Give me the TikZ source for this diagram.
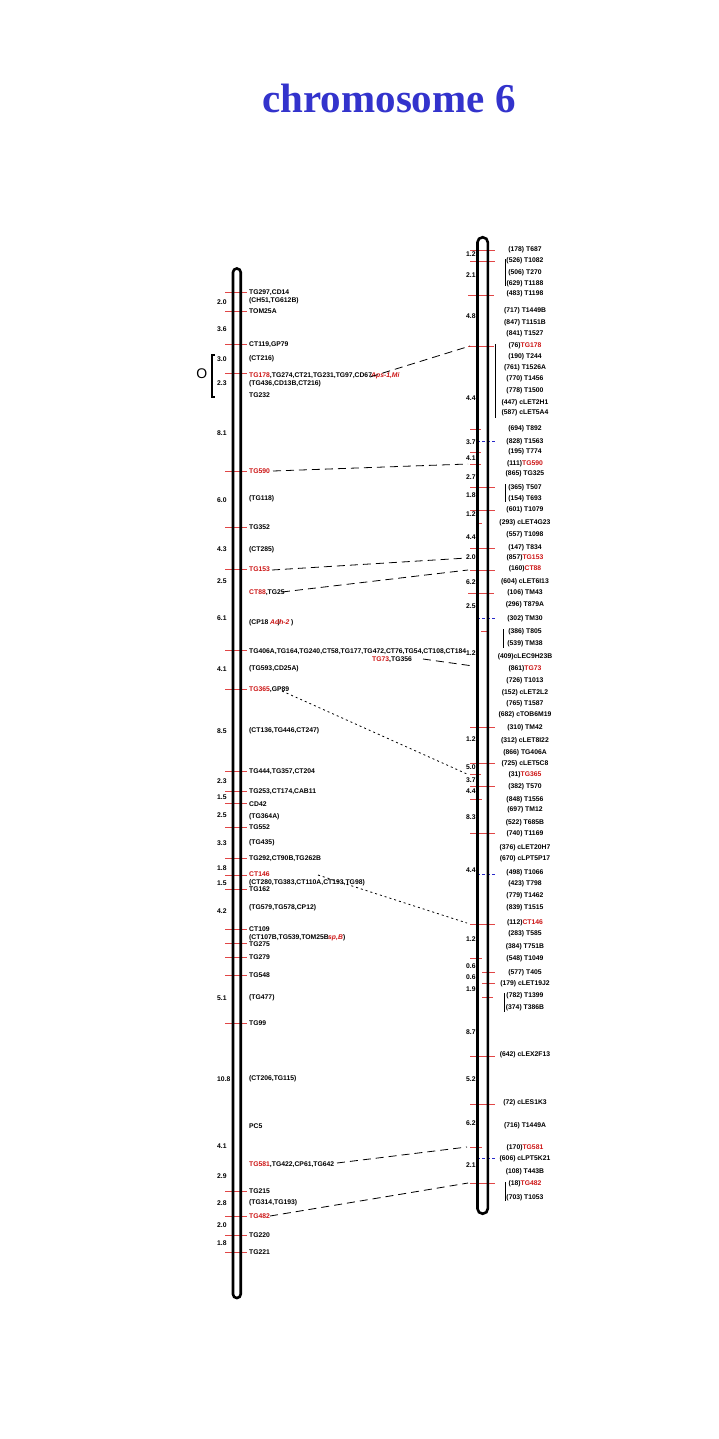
\documentclass[tikz,border=0pt]{standalone}
\usepackage{fontspec}
\setmainfont{Liberation Sans}
\newfontfamily\titlefont{Liberation Serif}
\definecolor{titleblue}{RGB}{51,51,204}
\definecolor{mred}{RGB}{204,20,20}
\definecolor{tred}{RGB}{225,70,70}
\definecolor{bdash}{RGB}{40,40,200}
\newcommand\redt[1]{\textcolor{mred}{#1}}
\newcommand\ltick[1]{\draw[tickl] (225,#1) -- (247,#1);}
\newcommand\llab[3]{\node[lab] (#1) at (249,#2) {#3};}
\newcommand\lnum[3]{\node[lab] (#1) at (217,#2) {#3};}
\newcommand\rtick[3]{\draw[tickl] (#1,#3) -- (#2,#3);}
\newcommand\rblue[1]{\draw[bluetick] (477,#1) -- (495,#1);}
\newcommand\rlab[3]{\node[rlabs] (#1) at (525,#2) {#3};}
\newcommand\rnum[3]{\node[lab] (#1) at (466,#2) {#3};}
\begin{document}
\begin{tikzpicture}[x=1pt,y=-1pt,
  lab/.style={font=\fontsize{6.8}{8}\selectfont\bfseries, inner sep=0pt, text height=5pt, text depth=0pt, anchor=west},
  rlabs/.style={lab, anchor=center},
  tickl/.style={draw=tred, line width=0.9pt},
  bluetick/.style={draw=bdash, dash pattern=on 3pt off 2pt, line width=0.9pt},
  conn/.style={draw=black, dash pattern=on 8pt off 5pt, line width=0.8pt},
  dotconn/.style={draw=black, dash pattern=on 2pt off 3pt, line width=0.8pt},
  chrom/.style={draw=black, line width=2.6pt},
  overlay/.style={lab, text=mred, font=\fontsize{6.8}{8}\selectfont\bfseries\itshape}
]
\path[use as bounding box] (0,0) rectangle (719,1439);

% title
\node[font=\titlefont\bfseries\fontsize{41}{48}\selectfont, text=titleblue, anchor=base, inner sep=0pt] (title) at (389,113) {chromosome 6};

% ---------- left ticks
\foreach \y in {292,311,344,373,471,527,569,650,689,771,791,803,827,858,875,889,929,943,957,975,1023,1191,1216,1235,1252} {\ltick{\y}}
% ---------- right ticks
\rtick{470}{495}{250}
\rtick{470}{495}{261}
\rtick{468}{494}{295}
\rtick{468}{494}{346}
\rtick{470}{481}{429}
\rtick{470}{481}{452}
\rtick{470}{481}{464}
\rtick{470}{495}{487}
\rtick{470}{495}{510}
\rtick{476}{482}{523}
\rtick{470}{495}{548}
\rtick{470}{495}{570}
\rtick{468}{494}{593}
\rtick{481}{489}{631}
\rtick{470}{495}{727}
\rtick{470}{495}{763}
\rtick{470}{481}{774}
\rtick{470}{495}{786}
\rtick{470}{482}{799}
\rtick{470}{495}{833}
\rtick{470}{495}{924}
\rtick{470}{482}{958}
\rtick{482}{495}{972}
\rtick{482}{495}{983}
\rtick{482}{493}{997}
\rtick{470}{495}{1056}
\rtick{470}{495}{1104}
\rtick{470}{482}{1147}
\rtick{470}{495}{1183}
\rblue{441}
\rblue{618}
\rblue{874}
\rblue{1158}

% ---------- chromosomes
\draw[chrom, rounded corners=3.8pt] (233,268.5) rectangle (240.7,1298);
\draw[chrom, rounded corners=5pt] (477.5,237.3) rectangle (487.8,1213.7);

% bracket and O
\draw[line width=2.4pt] (215,355) -- (211.7,355) -- (211.7,397) -- (215,397);
\node[font=\fontsize{14}{14}\selectfont, inner sep=0pt] (olab) at (201.7,374) {O};

% ---------- left labels
\llab{l1}{292}{TG297,CD14}
\llab{l2}{300}{(CH51,TG612B)}
\llab{l3}{311}{TOM25A}
\llab{l4}{344}{CT119,GP79}
\llab{l5}{358}{(CT216)}
\llab{l6}{375}{\redt{TG178},TG274,CT21,TG231,TG97,CD67}
\node[overlay] (l6b) at (371,375) {Aps-1,Mi};
\llab{l7}{383}{(TG436,CD13B,CT216)}
\llab{l8}{395}{TG232}
\llab{l9}{471}{\redt{TG590}}
\llab{l10}{498}{(TG118)}
\llab{l11}{527}{TG352}
\llab{l12}{549}{(CT285)}
\llab{l13}{569}{\redt{TG153}}
\llab{l14}{592}{\redt{CT88},TG25}
\llab{l15}{622}{(CP18\phantom{Ad})}
\node[overlay] (l15b) at (270,622) {Adh-2};
\node[lab] (l15c) at (291,622) {)};
\llab{l16}{651}{TG406A,TG164,TG240,CT58,TG177,TG472,CT76,TG54,CT108,CT184}
\node[lab] (l17) at (372,659) {\redt{TG73},TG356};
\llab{l18}{668}{(TG593,CD25A)}
\llab{l19}{689}{\redt{TG365},GP89}
\llab{l20}{730}{(CT136,TG446,CT247)}
\llab{l21}{771}{TG444,TG357,CT204}
\llab{l22}{791}{TG253,CT174,CAB11}
\llab{l23}{804}{CD42}
\llab{l24}{816}{(TG364A)}
\llab{l25}{827}{TG552}
\llab{l26}{842}{(TG435)}
\llab{l27}{858}{TG292,CT90B,TG262B}
\llab{l28}{874}{\redt{CT146}}
\llab{l29}{882}{(CT280,TG383,CT110A,CT193,TG98)}
\llab{l30}{889}{TG162}
\llab{l31}{907}{(TG579,TG578,CP12)}
\llab{l32}{929}{CT109}
\llab{l33}{937}{(CT107B,TG539,TOM25B}
\node[overlay] (l33b) at (328,937) {sp,B};
\node[lab] (l33c) at (343,937) {)};
\llab{l34}{944}{TG275}
\llab{l35}{957}{TG279}
\llab{l36}{975}{TG548}
\llab{l37}{997}{(TG477)}
\llab{l38}{1023}{TG99}
\llab{l39}{1078}{(CT206,TG115)}
\llab{l40}{1126}{PC5}
\llab{l41}{1164}{\redt{TG581},TG422,CP61,TG642}
\llab{l42}{1191}{TG215}
\llab{l43}{1202}{(TG314,TG193)}
\llab{l44}{1216}{\redt{TG482}}
\llab{l45}{1235}{TG220}
\llab{l46}{1252}{TG221}

% ---------- left distances
\lnum{n1}{302}{2.0}
\lnum{n2}{329}{3.6}
\lnum{n3}{359}{3.0}
\lnum{n4}{383}{2.3}
\lnum{n5}{433}{8.1}
\lnum{n6}{500}{6.0}
\lnum{n7}{549}{4.3}
\lnum{n8}{581}{2.5}
\lnum{n9}{618}{6.1}
\lnum{n10}{669}{4.1}
\lnum{n11}{731}{8.5}
\lnum{n12}{781}{2.3}
\lnum{n13}{797}{1.5}
\lnum{n14}{815}{2.5}
\lnum{n15}{843}{3.3}
\lnum{n16}{868}{1.8}
\lnum{n17}{883}{1.5}
\lnum{n18}{911}{4.2}
\lnum{n19}{998}{5.1}
\lnum{n20}{1079}{10.8}
\lnum{n21}{1146}{4.1}
\lnum{n22}{1176}{2.9}
\lnum{n23}{1203}{2.8}
\lnum{n24}{1225}{2.0}
\lnum{n25}{1243}{1.8}

% ---------- right distances
\rnum{m1}{254}{1.2}
\rnum{m2}{275}{2.1}
\rnum{m3}{316}{4.8}
\rnum{m4}{398}{4.4}
\rnum{m5}{442}{3.7}
\rnum{m6}{458}{4.1}
\rnum{m7}{477}{2.7}
\rnum{m8}{495}{1.8}
\rnum{m9}{514}{1.2}
\rnum{m10}{537}{4.4}
\rnum{m11}{557}{2.0}
\rnum{m12}{582}{6.2}
\rnum{m13}{606}{2.5}
\rnum{m14}{653}{1.2}
\rnum{m15}{739}{1.2}
\rnum{m16}{767}{5.0}
\rnum{m17}{780}{3.7}
\rnum{m18}{791}{4.4}
\rnum{m19}{817}{8.3}
\rnum{m20}{870}{4.4}
\rnum{m21}{939}{1.2}
\rnum{m22}{966}{0.6}
\rnum{m23}{977}{0.6}
\rnum{m24}{989}{1.9}
\rnum{m25}{1032}{8.7}
\rnum{m26}{1079}{5.2}
\rnum{m27}{1123}{6.2}
\rnum{m28}{1165}{2.1}

% ---------- right labels
\rlab{r1}{249}{(178) T687}
\rlab{r2}{260}{(526) T1082}
\rlab{r3}{272}{(506) T270}
\rlab{r4}{283}{(629) T1188}
\rlab{r5}{293}{(483) T1198}
\rlab{r6}{310}{(717) T1449B}
\rlab{r7}{322}{(847) T1151B}
\rlab{r8}{333}{(841) T1527}
\rlab{r9}{345}{(76)\redt{TG178}}
\rlab{r10}{356}{(190) T244}
\rlab{r11}{367}{(761) T1526A}
\rlab{r12}{378}{(770) T1456}
\rlab{r13}{390}{(778) T1500}
\rlab{r14}{402}{(447) cLET2H1}
\rlab{r15}{412}{(587) cLET5A4}
\rlab{r16}{428}{(694) T892}
\rlab{r17}{441}{(828) T1563}
\rlab{r18}{451}{(195) T774}
\rlab{r19}{463}{(111)\redt{TG590}}
\rlab{r20}{473}{(865) TG325}
\rlab{r21}{487}{(365) T507}
\rlab{r22}{498}{(154) T693}
\rlab{r23}{509}{(601) T1079}
\rlab{r24}{522}{(293) cLET4G23}
\rlab{r25}{534}{(557) T1098}
\rlab{r26}{547}{(147) T834}
\rlab{r27}{557}{(857)\redt{TG153}}
\rlab{r28}{568}{(160)\redt{CT88}}
\rlab{r29}{581}{(604) cLET6I13}
\rlab{r30}{592}{(106) TM43}
\rlab{r31}{604}{(296) T879A}
\rlab{r32}{618}{(302) TM30}
\rlab{r33}{631}{(386) T805}
\rlab{r34}{643}{(539) TM38}
\rlab{r35}{656}{(409)cLEC9H23B}
\rlab{r36}{668}{(861)\redt{TG73}}
\rlab{r37}{680}{(726) T1013}
\rlab{r38}{692}{(152) cLET2L2}
\rlab{r39}{703}{(765) T1587}
\rlab{r40}{714}{(682) cTOB6M19}
\rlab{r41}{727}{(310) TM42}
\rlab{r42}{740}{(312) cLET8I22}
\rlab{r43}{752}{(866) TG406A}
\rlab{r44}{763}{(725) cLET5C8}
\rlab{r45}{774}{(31)\redt{TG365}}
\rlab{r46}{786}{(382) T570}
\rlab{r47}{799}{(848) T1556}
\rlab{r48}{809}{(697) TM12}
\rlab{r49}{822}{(522) T685B}
\rlab{r50}{833}{(740) T1169}
\rlab{r51}{847}{(376) cLET20H7}
\rlab{r52}{858}{(670) cLPT5P17}
\rlab{r53}{872}{(498) T1066}
\rlab{r54}{883}{(423) T798}
\rlab{r55}{895}{(779) T1462}
\rlab{r56}{907}{(839) T1515}
\rlab{r57}{922}{(112)\redt{CT146}}
\rlab{r58}{933}{(283) T585}
\rlab{r59}{946}{(384) T751B}
\rlab{r60}{958}{(548) T1049}
\rlab{r61}{972}{(577) T405}
\rlab{r62}{983}{(179) cLET19J2}
\rlab{r63}{995}{(782) T1399}
\rlab{r64}{1007}{(374) T386B}
\rlab{r65}{1054}{(642) cLEX2F13}
\rlab{r66}{1102}{(72) cLES1K3}
\rlab{r67}{1125}{(716) T1449A}
\rlab{r68}{1147}{(170)\redt{TG581}}
\rlab{r69}{1158}{(606) cLPT5K21}
\rlab{r70}{1171}{(108) T443B}
\rlab{r71}{1183}{(18)\redt{TG482}}
\rlab{r72}{1197}{(703) T1053}

% grouping bars on the right
\draw[line width=0.8pt] (505.7,259) -- (505.7,286);
\draw[line width=0.8pt] (495,344) -- (495,418);
\draw[line width=0.8pt] (505.7,484) -- (505.7,502);
\draw[line width=0.8pt] (503.3,629) -- (503.3,648);
\draw[line width=0.8pt] (504.3,993) -- (504.3,1012);
\draw[line width=0.8pt] (505,1182) -- (505,1201);

% ---------- connectors
\coordinate (a1) at (370,377);  \coordinate (b1) at (470,346);
\coordinate (a2) at (273,471);  \coordinate (b2) at (468,464);
\coordinate (a3) at (272,570);  \coordinate (b3) at (467,558);
\coordinate (a4) at (282,592);  \coordinate (b4) at (468,570);
\coordinate (a5) at (423,659);  \coordinate (b5) at (473,666);
\coordinate (a6) at (282,691);  \coordinate (b6) at (467,774);
\coordinate (a7) at (318,875);  \coordinate (b7) at (467,923);
\coordinate (a8) at (337,1163); \coordinate (b8) at (467,1147);
\coordinate (a9) at (270,1216); \coordinate (b9) at (468,1183);
\draw[conn] (a1) -- (b1);
\draw[conn] (a2) -- (b2);
\draw[conn] (a3) -- (b3);
\draw[conn] (a4) -- (b4);
\draw[conn] (a5) -- (b5);
\draw[dotconn] (a6) -- (b6);
\draw[dotconn] (a7) -- (b7);
\draw[conn] (a8) -- (b8);
\draw[conn] (a9) -- (b9);
\end{tikzpicture}
\end{document}
